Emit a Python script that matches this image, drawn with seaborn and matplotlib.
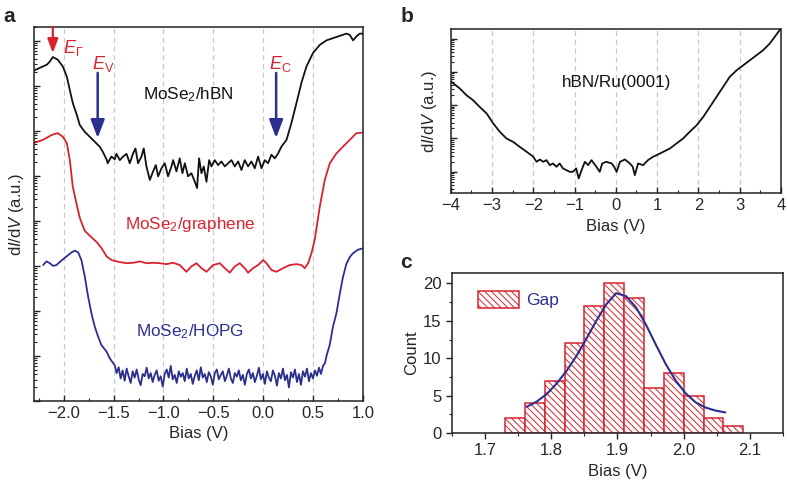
import matplotlib
matplotlib.use('agg')
import matplotlib.pyplot as plt
import matplotlib.patches as mpatches
from matplotlib.ticker import LogLocator, MultipleLocator, NullFormatter, FormatStrFormatter
import numpy as np
import seaborn as sns

# ---- panel a: STS spectra (log10 of dI/dV, a.u.) ----
hbn_bias = [-2.30, -2.24, -2.17, -2.14, -2.11, -2.06, -2.01, -1.97, -1.94, -1.91,
            -1.87, -1.84, -1.79, -1.74, -1.69, -1.64, -1.61, -1.57, -1.56,
            -1.522, -1.489, -1.472, -1.438, -1.405, -1.371, -1.338, -1.305, -1.281, -1.255,
            -1.221, -1.198, -1.171, -1.137, -1.104, -1.077, -1.054, -1.020, -0.987, -0.954,
            -0.920, -0.903, -0.870, -0.837, -0.810, -0.786, -0.753, -0.720, -0.686, -0.663,
            -0.643, -0.619, -0.596, -0.569, -0.542, -0.519, -0.486, -0.452, -0.419, -0.385,
            -0.352, -0.318, -0.285, -0.251, -0.218, -0.185, -0.151, -0.118, -0.084, -0.051,
            -0.017, 0.016, 0.049, 0.083, 0.116, 0.150, 0.183,
            0.234, 0.284, 0.334, 0.384, 0.434, 0.500, 0.568, 0.635, 0.701, 0.768,
            0.836, 0.869, 0.902, 0.936, 0.969, 1.000]
hbn_log = [7.34, 7.40, 7.47, 7.54, 7.64, 7.58, 7.43, 7.21, 6.91, 6.62,
           6.36, 6.13, 5.98, 5.87, 5.76, 5.65, 5.54, 5.36, 5.28,
           5.43, 5.37, 5.49, 5.35, 5.43, 5.49, 5.28, 5.50, 5.61, 5.28,
           5.43, 5.61, 5.21, 4.91, 5.10, 5.24, 4.99, 5.17, 5.28, 4.99,
           5.21, 5.35, 5.10, 5.39, 5.06, 5.28, 4.99, 5.06, 4.87, 4.73,
           5.39, 5.06, 5.21, 4.87, 5.35, 5.21, 5.35, 5.24, 5.32, 5.21,
           5.28, 5.35, 5.21, 5.32, 5.13, 5.35, 5.21, 5.32, 5.17, 5.43,
           5.17, 5.35, 5.28, 5.47, 5.39, 5.50, 5.65,
           5.80, 6.18, 6.62, 7.07, 7.43, 7.73, 7.91, 8.01, 8.06, 8.11,
           8.16, 8.13, 8.01, 8.10, 8.16, 8.16]

gr_bias = [-2.30, -2.21, -2.12, -2.06, -2.01, -1.97, -1.94, -1.91, -1.87, -1.84,
           -1.79, -1.72, -1.67, -1.62, -1.57, -1.52, -1.47, -1.371, -1.305, -1.238,
           -1.171, -1.104, -1.037, -0.970, -0.903, -0.837, -0.770, -0.720, -0.669, -0.619,
           -0.569, -0.502, -0.435, -0.385, -0.335, -0.285, -0.235, -0.185, -0.151, -0.101,
           -0.051, 0.000, 0.033, 0.083, 0.133, 0.200, 0.267, 0.334, 0.384, 0.417,
           0.451, 0.484, 0.517, 0.568, 0.618, 0.668, 0.735, 0.801, 0.869, 0.936, 1.000]
gr_log = [5.73, 5.80, 5.91, 5.95, 5.87, 5.73, 5.36, 4.76, 4.36, 4.07,
          3.78, 3.63, 3.53, 3.39, 3.21, 3.13, 3.10, 3.06, 3.07, 3.10,
          3.06, 3.07, 3.06, 3.04, 3.07, 3.02, 2.87, 2.99, 3.06, 2.95,
          2.87, 3.02, 3.06, 2.95, 2.85, 2.99, 3.06, 2.95, 2.85, 2.95,
          3.02, 3.13, 3.06, 2.91, 2.87, 2.95, 3.02, 3.04, 3.02, 2.95,
          3.06, 3.28, 3.58, 4.32, 4.91, 5.28, 5.50, 5.65, 5.80, 5.95, 5.96]

hopg_left_bias = [-2.207, -2.174, -2.140, -2.107, -2.074, -2.023, -1.973, -1.923, -1.890, -1.856,
                  -1.823, -1.789, -1.756, -1.723, -1.689, -1.656, -1.622, -1.572, -1.539, -1.505]
hopg_left_log = [3.02, 3.10, 3.06, 3.00, 3.02, 3.12, 3.21, 3.30, 3.34, 3.30,
                 3.13, 2.76, 2.32, 1.95, 1.65, 1.43, 1.24, 1.10, 0.95, 0.84]
hopg_gap_log = [0.80, 0.62, 0.75, 0.50, 0.68, 0.45, 0.72, 0.55, 0.40, 0.66, 0.52, 0.70, 0.48, 0.35,
                0.60, 0.55, 0.74, 0.50, 0.62, 0.42, 0.58, 0.68, 0.45, 0.55, 0.32, 0.60, 0.70, 0.52,
                0.78, 0.48, 0.58, 0.40, 0.66, 0.54, 0.62, 0.44, 0.72, 0.50, 0.60, 0.38, 0.56, 0.68,
                0.46, 0.75, 0.52, 0.60, 0.42, 0.64, 0.55, 0.36, 0.62, 0.70, 0.48, 0.58, 0.66, 0.44,
                0.56, 0.72, 0.50, 0.40, 0.62, 0.54, 0.68, 0.46, 0.58, 0.36, 0.60, 0.70, 0.50, 0.62,
                0.42, 0.56, 0.74, 0.48, 0.60, 0.38, 0.66, 0.52, 0.44, 0.68, 0.56, 0.34, 0.62, 0.50,
                0.72, 0.46, 0.58, 0.30, 0.64, 0.52, 0.70, 0.42, 0.60, 0.36, 0.66, 0.54, 0.72, 0.44,
                0.62, 0.50, 0.68, 0.56, 0.74, 0.60, 0.78, 0.84]
hopg_gap_range = (-1.49, 0.62)
hopg_right_bias = [0.635, 0.668, 0.700, 0.735, 0.770, 0.800, 0.835, 0.870, 0.900, 0.950, 1.000]
hopg_right_log = [1.00, 1.25, 1.65, 1.95, 2.40, 2.75, 3.05, 3.20, 3.28, 3.36, 3.39]

# band edges marked with arrows (V)
e_gamma, e_v, e_c = -2.11, -1.66, 0.13

# ---- panel b: hBN/Ru(0001) ----
ru_bias = [-3.98, -3.78, -3.62, -3.46, -3.30, -3.13, -2.97, -2.81, -2.65, -2.49,
           -2.33, -2.16, -2.00, -1.92, -1.84, -1.76, -1.68, -1.60, -1.52, -1.44,
           -1.36, -1.28, -1.20, -1.12, -1.04, -0.96, -0.90, -0.83, -0.75, -0.67,
           -0.59, -0.53, -0.47, -0.39, -0.33, -0.23, -0.10, -0.04, 0.02, 0.10,
           0.22, 0.34, 0.41, 0.46, 0.54, 0.66, 0.78, 0.90, 0.99, 1.15,
           1.31, 1.47, 1.63, 1.79, 1.96, 2.12, 2.28, 2.44, 2.60, 2.76,
           2.93, 3.09, 3.25, 3.41, 3.57, 3.73, 3.85, 3.98]
ru_log = [2.70, 2.50, 2.30, 2.15, 1.95, 1.75, 1.45, 1.20, 1.00, 0.90,
          0.75, 0.60, 0.45, 0.30, 0.37, 0.30, 0.35, 0.20, 0.25, 0.15,
          0.25, 0.10, 0.05, 0.00, 0.00, 0.10, -0.20, 0.05, 0.30, 0.20,
          0.35, 0.25, 0.15, 0.00, 0.25, 0.30, 0.25, 0.15, 0.00, 0.30,
          0.37, 0.25, 0.15, -0.10, 0.25, 0.20, 0.35, 0.45, 0.50, 0.60,
          0.70, 0.85, 1.00, 1.20, 1.40, 1.65, 1.95, 2.25, 2.55, 2.85,
          3.05, 3.20, 3.35, 3.50, 3.65, 3.85, 4.05, 4.27]

# ---- panel c: gap histogram ----
bin_edges = [1.73, 1.76, 1.79, 1.82, 1.85, 1.88, 1.91, 1.94, 1.97, 2.00, 2.03, 2.06, 2.09]
gap_counts = [2, 4, 7, 12, 17, 20, 18, 6, 8, 5, 2, 1]
fit_bias = [1.763, 1.778, 1.793, 1.808, 1.823, 1.838, 1.853, 1.868, 1.883, 1.898, 1.913,
            1.928, 1.943, 1.958, 1.973, 1.988, 2.003, 2.018, 2.033, 2.048, 2.063]
fit_count = [3.5, 4.2, 5.2, 6.6, 8.3, 10.3, 12.6, 15.0, 17.2, 18.7, 18.3,
             16.8, 14.5, 11.8, 9.2, 7.0, 5.3, 4.1, 3.4, 3.0, 2.75]

RED = '#d8232e'
BLUE = '#2b2f8e'
BLACK = '#111111'
GRID = '#c8c8c8'
TICK_FS = 12
LABEL_FS = 12
HATCH = '\\' * 5

sns.set_style('ticks')
plt.rcParams['font.family'] = ['Liberation Sans', 'DejaVu Sans']
plt.rcParams['mathtext.fontset'] = 'custom'
plt.rcParams['mathtext.rm'] = 'Liberation Sans'
plt.rcParams['mathtext.it'] = 'Liberation Sans:italic'
plt.rcParams['mathtext.bf'] = 'Liberation Sans:bold'
plt.rcParams['axes.linewidth'] = 1.1
plt.rcParams['axes.edgecolor'] = '#222222'
plt.rcParams['hatch.linewidth'] = 0.7
plt.rcParams['hatch.color'] = RED

fig = plt.figure(figsize=(7.88, 4.84), dpi=100)
ax_a = fig.add_axes([0.043, 0.1715, 0.4175, 0.773])
ax_b = fig.add_axes([0.572, 0.601, 0.419, 0.339])
ax_c = fig.add_axes([0.5736, 0.1054, 0.420, 0.3306])


def log_axis(ax):
    ax.set_yscale('log')
    ax.yaxis.set_major_locator(LogLocator(base=10, numticks=30))
    ax.yaxis.set_minor_locator(LogLocator(base=10, subs=np.arange(2, 10), numticks=30))
    ax.yaxis.set_major_formatter(NullFormatter())
    ax.yaxis.set_minor_formatter(NullFormatter())
    ax.tick_params(which='both', direction='in', top=False, right=False,
                   labelsize=TICK_FS, color='#222222')
    ax.tick_params(which='major', length=4, width=1)
    ax.tick_params(which='minor', length=2.2, width=0.8)
    ax.grid(axis='x', which='major', linestyle=(0, (4, 3)), color=GRID, linewidth=0.9)
    for s in ax.spines.values():
        s.set_visible(True)


# panel a
hopg_bias = hopg_left_bias + list(np.linspace(hopg_gap_range[0], hopg_gap_range[1],
                                              len(hopg_gap_log))) + hopg_right_bias
hopg_log = hopg_left_log + hopg_gap_log + hopg_right_log
for xs, ys, col in [(hbn_bias, hbn_log, BLACK), (gr_bias, gr_log, RED),
                    (hopg_bias, hopg_log, BLUE)]:
    sns.lineplot(x=xs, y=10 ** np.array(ys), color=col, lw=1.3, sort=False,
                 estimator=None, ax=ax_a)
log_axis(ax_a)
ax_a.set_xlim(-2.3, 1.0)
ax_a.set_ylim(1, 10 ** 8.31)
ax_a.xaxis.set_major_locator(MultipleLocator(0.5))
ax_a.xaxis.set_minor_locator(MultipleLocator(0.25))
ax_a.set_xlabel('Bias (V)', fontsize=LABEL_FS)
ax_a.set_ylabel('d$I$/d$V$ (a.u.)', fontsize=LABEL_FS, labelpad=2)

ax_a.text(0.468, 0.818, 'MoSe$_2$/hBN', transform=ax_a.transAxes, color=BLACK,
          fontsize=12.3, ha='center', va='center')
ax_a.text(0.474, 0.471, 'MoSe$_2$/graphene', transform=ax_a.transAxes, color=RED,
          fontsize=12.3, ha='center', va='center')
ax_a.text(0.474, 0.185, 'MoSe$_2$/HOPG', transform=ax_a.transAxes, color=BLUE,
          fontsize=12.3, ha='center', va='center')

coords = ('data', 'axes fraction')
ax_a.annotate('', xy=(e_gamma, 0.930), xytext=(e_gamma, 1.0), xycoords=coords,
              textcoords=coords,
              arrowprops=dict(arrowstyle='-|>,head_width=0.32,head_length=0.85',
                              color=RED, lw=1.6, shrinkA=0, shrinkB=0))
for e in (e_v, e_c):
    ax_a.annotate('', xy=(e, 0.703), xytext=(e, 0.877), xycoords=coords,
                  textcoords=coords,
                  arrowprops=dict(arrowstyle='-|>,head_width=0.42,head_length=1.1',
                                  color=BLUE, lw=1.8, shrinkA=0, shrinkB=0))
ax_a.text(0.120, 0.944, r'$E_\Gamma$', transform=ax_a.transAxes, color=RED,
          fontsize=13, ha='center', va='center')
ax_a.text(0.212, 0.901, r'$E_\mathrm{V}$', transform=ax_a.transAxes, color=RED,
          fontsize=13, ha='center', va='center')
ax_a.text(0.750, 0.901, r'$E_\mathrm{C}$', transform=ax_a.transAxes, color=RED,
          fontsize=13, ha='center', va='center')

# panel b
sns.lineplot(x=ru_bias, y=10 ** np.array(ru_log), color=BLACK, lw=1.3, sort=False,
             estimator=None, ax=ax_b)
log_axis(ax_b)
ax_b.set_xlim(-4, 4)
ax_b.set_ylim(10 ** -0.64, 10 ** 4.285)
ax_b.xaxis.set_major_locator(MultipleLocator(1))
ax_b.xaxis.set_minor_locator(MultipleLocator(0.5))
ax_b.set_xlabel('Bias (V)', fontsize=LABEL_FS)
ax_b.set_ylabel('d$I$/d$V$ (a.u.)', fontsize=LABEL_FS, labelpad=5)
ax_b.text(0.503, 0.677, 'hBN/Ru(0001)', transform=ax_b.transAxes, color=BLACK,
          fontsize=12.3, ha='center', va='center')

# panel c
centers = [(lo + hi) / 2 for lo, hi in zip(bin_edges[:-1], bin_edges[1:])]
sns.histplot(x=centers, weights=gap_counts, bins=bin_edges, color='white', alpha=1,
             edgecolor=RED, linewidth=1.1, ax=ax_c)
for p in ax_c.patches:
    p.set_hatch(HATCH)
sns.lineplot(x=fit_bias, y=fit_count, color=BLUE, lw=1.5, sort=False, estimator=None,
             ax=ax_c)
ax_c.set_xlim(1.65, 2.15)
ax_c.set_ylim(0, 21.4)
ax_c.xaxis.set_major_locator(MultipleLocator(0.1))
ax_c.xaxis.set_minor_locator(MultipleLocator(0.05))
ax_c.yaxis.set_major_locator(MultipleLocator(5))
ax_c.yaxis.set_minor_locator(MultipleLocator(2.5))
ax_c.xaxis.set_major_formatter(FormatStrFormatter('%.1f'))
ax_c.tick_params(which='both', direction='out', labelsize=TICK_FS, color='#222222')
ax_c.tick_params(which='major', length=4, width=1)
ax_c.tick_params(which='minor', length=2.2, width=0.8)
for s in ax_c.spines.values():
    s.set_visible(True)
ax_c.set_xlabel('Bias (V)', fontsize=LABEL_FS)
ax_c.set_ylabel('Count', fontsize=LABEL_FS, labelpad=3)
gap_handle = mpatches.Patch(facecolor='white', edgecolor=RED, hatch=HATCH,
                            linewidth=1.1, label='Gap')
leg = ax_c.legend(handles=[gap_handle], loc='upper left', frameon=False,
                  handlelength=2.4, handleheight=1.1, fontsize=12.5,
                  bbox_to_anchor=(0.03, 0.985), handletextpad=0.4)
leg.get_texts()[0].set_color(BLUE)

fig.text(0.004, 0.965, 'a', fontsize=15, fontweight='bold', va='center')
fig.text(0.508, 0.965, 'b', fontsize=15, fontweight='bold', va='center')
fig.text(0.508, 0.458, 'c', fontsize=15, fontweight='bold', va='center')

fig.savefig('out.png', dpi=100)
